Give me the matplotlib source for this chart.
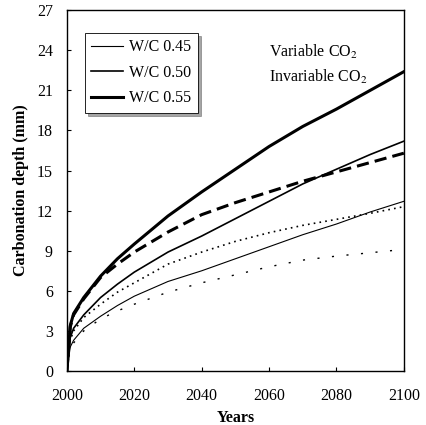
import matplotlib
matplotlib.use("Agg")
import matplotlib.pyplot as plt

years = [2000, 2001, 2002, 2005, 2010, 2015, 2020, 2030, 2040, 2050, 2060, 2070, 2080, 2090, 2100]

wc045_var = [0, 1.8, 2.3, 3.2, 4.1, 4.9, 5.6, 6.7, 7.5, 8.4, 9.3, 10.2, 11.0, 11.9, 12.7]
wc050_var = [0, 2.5, 3.2, 4.2, 5.5, 6.5, 7.4, 8.9, 10.1, 11.4, 12.7, 14.0, 15.1, 16.2, 17.2]
wc055_var = [0, 3.4, 4.3, 5.5, 7.1, 8.4, 9.5, 11.6, 13.4, 15.1, 16.8, 18.3, 19.6, 21.0, 22.4]

wc045_inv = [0, 1.7, 2.1, 3.0, 3.9, 4.5, 5.0, 5.9, 6.6, 7.2, 7.8, 8.3, 8.6, 8.85, 9.1]
wc050_inv = [0, 2.3, 3.0, 4.0, 5.0, 5.9, 6.6, 8.0, 8.9, 9.7, 10.35, 10.9, 11.35, 11.8, 12.3]
wc055_inv = [0, 3.3, 4.2, 5.4, 7.0, 8.0, 8.9, 10.4, 11.7, 12.6, 13.4, 14.2, 14.9, 15.6, 16.3]

legend_labels = ["W/C 0.45", "W/C 0.50", "W/C 0.55"]
xticks = [2000, 2020, 2040, 2060, 2080, 2100]
yticks = [0, 3, 6, 9, 12, 15, 18, 21, 24, 27]

plt.rcParams['font.family'] = ['Liberation Serif', 'DejaVu Serif']
plt.rcParams['mathtext.fontset'] = 'stix'

FS = 11.5

fig = plt.figure(figsize=(4.26, 4.25), dpi=100)
ax = fig.add_axes([0.157, 0.127, 0.791, 0.849])

widths = [0.8, 1.2, 2.2]
var_series = [wc045_var, wc050_var, wc055_var]
inv_series = [wc045_inv, wc050_inv, wc055_inv]
inv_styles = [(0, (1.5, 9)), (0, (1, 2.5)), (0, (4, 2))]
inv_widths = [1.0, 1.2, 2.2]

handles = []
for s, w, lab in zip(var_series, widths, legend_labels):
    h, = ax.plot(years, s, color='black', lw=w, label=lab)
    handles.append(h)
for s, w, ls in zip(inv_series, inv_widths, inv_styles):
    ax.plot(years, s, color='black', lw=w, linestyle=ls)

ax.set_xlim(2000, 2100)
ax.set_ylim(0, 27)
ax.set_xticks(xticks)
ax.set_yticks(yticks)
ax.tick_params(direction='in', length=3, labelsize=FS, width=0.8)
ax.tick_params(axis='x', pad=12.5)
ax.tick_params(axis='y', pad=10)
for sp in ax.spines.values():
    sp.set_linewidth(1.0)

ax.set_xlabel("Years", fontsize=FS, fontweight='bold', labelpad=4)
ax.set_ylabel("Carbonation depth (mm)", fontsize=FS, fontweight='bold', labelpad=6)

leg = ax.legend(handles=handles, loc='upper left', bbox_to_anchor=(0.053, 0.937),
                fontsize=FS, frameon=True, fancybox=False, shadow=True,
                handlelength=2.0, handletextpad=0.4, borderpad=0.4,
                labelspacing=0.6, borderaxespad=0)
leg.get_frame().set_edgecolor('black')
leg.get_frame().set_linewidth(0.6)

ax.text(0.60, 0.885, r"Variable CO$_2$", transform=ax.transAxes, fontsize=FS, va='center')
ax.text(0.60, 0.815, r"Invariable CO$_2$", transform=ax.transAxes, fontsize=FS, va='center')

fig.savefig("out.png", dpi=100)
